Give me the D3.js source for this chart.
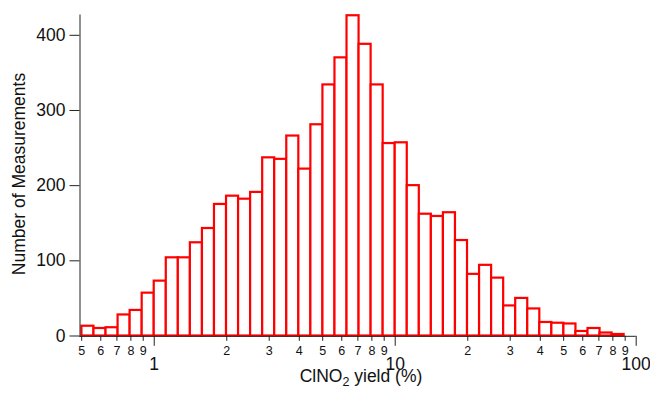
<!DOCTYPE html>
<html>
<head>
<meta charset="utf-8">
<script src="https://cdn.jsdelivr.net/npm/d3@7"></script>
<style>
  html, body { margin: 0; padding: 0; background: #fff; }
  svg { display: block; font-family: "Liberation Sans", Arial, Helvetica, sans-serif; }
</style>
</head>
<body>
<svg id="chart" width="650" height="394"></svg>
<script>
// Histogram bins: 20 per decade in log10 space, bin k spans 10^(k/20) .. 10^((k+1)/20)
const binStart = -6;
const binsPerDecade = 20;
const counts = [
  13, 10, 11, 28, 34, 57,            // 0.50 – 1.0
  73, 104, 104, 124, 143, 175, 186, 182, 191, 237,   // 1 – ~3.5
  235, 266, 222, 281, 334, 370, 426, 388, 334, 256,  // ~3.5 – 10
  257, 200, 162, 159, 164, 127, 82, 94, 77, 40,      // 10 – ~35
  50, 36, 18, 17, 16, 6, 10, 4, 2                    // ~35 – 90
];

const majorTicks = [1, 10, 100];
const minorTicks = [0.5, 0.6, 0.7, 0.8, 0.9,
                    2, 3, 4, 5, 6, 7, 8, 9,
                    20, 30, 40, 50, 60, 70, 80, 90];
const yTicks = [0, 100, 200, 300, 400];

const xTitle = "ClNO";
const xTitleSub = "2";
const xTitleTail = " yield (%)";
const yTitle = "Number of Measurements";

const bins = counts.map((c, i) => {
  const k = binStart + i;
  return { x0: Math.pow(10, k / binsPerDecade), x1: Math.pow(10, (k + 1) / binsPerDecade), count: c };
});

const svg = d3.select("#chart");
const font = "Liberation Sans, Arial, sans-serif";

const x = d3.scaleLog().domain([0.492, 100]).range([79.5, 635.7]);
const y = d3.scaleLinear().domain([0, 427]).range([335.5, 14.5]);

// bars
svg.append("g")
  .selectAll("rect")
  .data(bins)
  .join("rect")
  .attr("x", d => x(d.x0))
  .attr("width", d => x(d.x1) - x(d.x0))
  .attr("y", d => y(d.count))
  .attr("height", d => y(0) - y(d.count))
  .attr("fill", "#fff")
  .attr("stroke", "#ff0000")
  .attr("stroke-width", 2.2);

const axisColor = "#222";

// y axis
const yAxis = svg.append("g").attr("transform", `translate(${x.range()[0]},0)`)
  .call(d3.axisLeft(y).tickValues(yTicks).tickSize(10).tickPadding(4).tickSizeOuter(0));
yAxis.select(".domain").attr("stroke", axisColor).attr("d", `M0.5,${y.range()[1]}V${y(0) + 1.5}`);
yAxis.selectAll(".tick line").attr("stroke", axisColor);
yAxis.selectAll(".tick text").attr("fill", "#111").style("font-size", "17.5px").style("font-family", font);

// x axis: minor ticks with small digit labels
const xAxisY = y(0) + 0.3;
const xMinor = svg.append("g").attr("transform", `translate(0,${xAxisY})`)
  .call(d3.axisBottom(x).tickValues(minorTicks).tickSize(5).tickPadding(5.5)
    .tickFormat(d => String(Math.round(d / Math.pow(10, Math.floor(Math.log10(d) + 1e-9))))).tickSizeOuter(0));
xMinor.select(".domain").attr("stroke", axisColor).attr("d", `M${x.range()[0]},0.5H${x.range()[1]}`);
xMinor.selectAll(".tick line").attr("stroke", axisColor);
xMinor.selectAll(".tick text").attr("fill", "#111").style("font-size", "12.5px").style("font-family", font);

// x axis: decade ticks with larger labels set lower
const xMajor = svg.append("g").attr("transform", `translate(0,${xAxisY})`)
  .call(d3.axisBottom(x).tickValues(majorTicks).tickSize(10).tickPadding(12)
    .tickFormat(d3.format("d")).tickSizeOuter(0));
xMajor.select(".domain").remove();
xMajor.selectAll(".tick line").attr("stroke", axisColor);
xMajor.selectAll(".tick text").attr("fill", "#111").style("font-size", "17.5px").style("font-family", font);

// axis titles
const xt = svg.append("text")
  .attr("x", 361).attr("y", 382)
  .attr("text-anchor", "middle")
  .attr("fill", "#111")
  .style("font-size", "17.5px");
xt.append("tspan").text(xTitle);
xt.append("tspan").attr("dy", 4).style("font-size", "12.5px").text(xTitleSub);
xt.append("tspan").attr("dy", -4).text(xTitleTail);

svg.append("text")
  .attr("transform", "translate(25,174) rotate(-90)")
  .attr("text-anchor", "middle")
  .attr("fill", "#111")
  .style("font-size", "17.5px")
  .text(yTitle);
</script>
</body>
</html>
